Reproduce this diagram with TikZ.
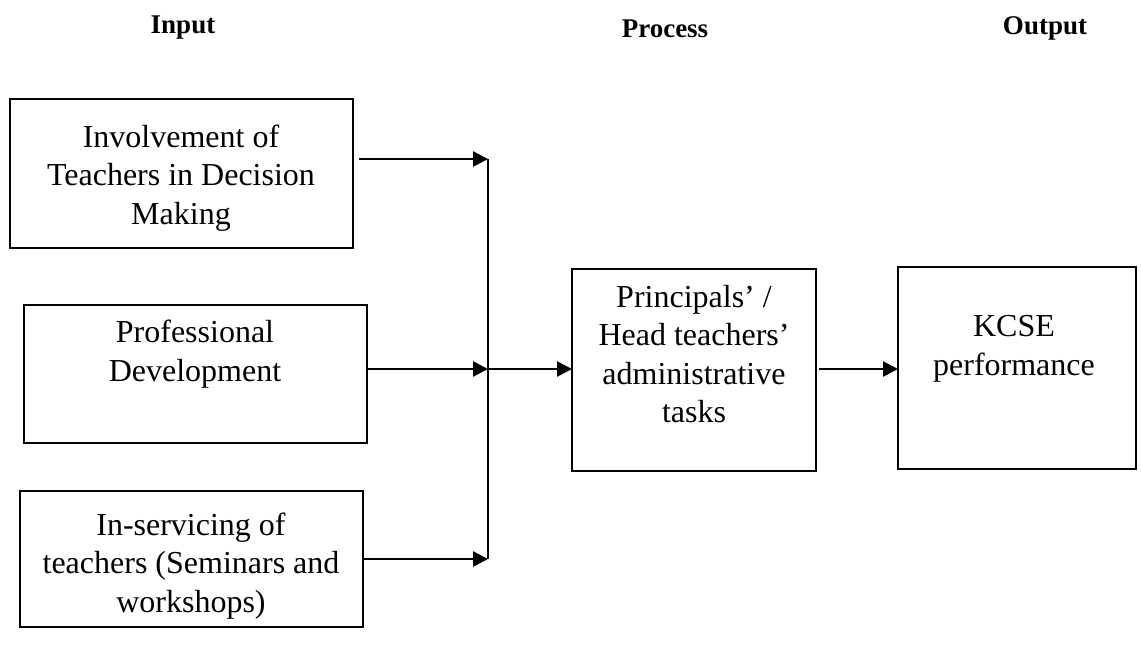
\documentclass[tikz,border=0pt]{standalone}
\usepackage{fontspec}
\setmainfont{Liberation Serif}
\usetikzlibrary{arrows.meta}
\begin{document}
\begin{tikzpicture}[x=0.5pt,y=-0.5pt,
  box/.style={draw,line width=1.2pt,inner sep=0pt,outer sep=0pt},
  txt/.style={align=center,inner sep=0pt,font=\fontsize{16}{19.2}\selectfont},
  head/.style={inner sep=0pt,font=\fontsize{13.5}{16}\selectfont\bfseries},
  link/.style={line width=1.3pt},
  arr/.style={line width=1.3pt,-{Triangle[length=7.5pt,width=7.5pt]}}]
\useasboundingbox (0,0) rectangle (1141,644);
% headers
\node[head] (hin) at (183,28) {Input};
\node[head] (hpr) at (665,29) {Process};
\node[head] (hout) at (1045,28) {Output};
% boxes
\node[box,minimum width=171.5pt,minimum height=74.5pt] (b1) at (181.5,173.5) {};
\node[box,minimum width=171.5pt,minimum height=69pt] (b2) at (195.5,374) {};
\node[box,minimum width=171.5pt,minimum height=68pt] (b3) at (191.5,559) {};
\node[box,minimum width=122pt,minimum height=101pt] (p) at (694,370) {};
\node[box,minimum width=119pt,minimum height=101pt] (k) at (1017,368) {};
% texts
\node[txt] (t1) at (181,178) {Involvement of\\Teachers in Decision\\Making};
\node[txt] (t2) at (195,354) {Professional\\Development};
\node[txt] (t3) at (191,566) {In-servicing of\\teachers (Seminars and\\workshops)};
\node[txt] (tp) at (694,354) {Principals’ /\\Head teachers’\\administrative\\tasks};
\node[txt] (tk) at (1014,349) {KCSE\\performance};
% junctions
\coordinate (j1) at (488,159);
\coordinate (jm) at (488,369);
\coordinate (j3) at (488,559);
% connectors
\draw[link] (j1) -- (j3);
\draw[arr] ([xshift=3pt]b1.east |- j1) -- (j1);
\draw[arr] (b2.east |- jm) -- (jm);
\draw[arr] (b3.east |- j3) -- (j3);
\draw[arr] (jm) -- (p.west |- jm);
\draw[arr] ([xshift=1.5pt]p.east |- jm) -- (k.west |- jm);
\end{tikzpicture}
\end{document}
